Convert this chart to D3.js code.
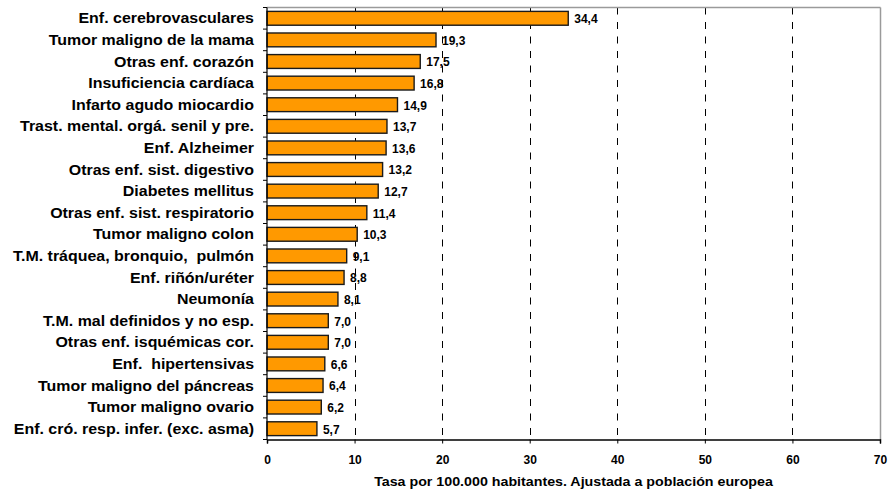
<!DOCTYPE html>
<html>
<head>
<meta charset="utf-8">
<script src="https://cdn.jsdelivr.net/npm/d3@7"></script>
<style>
  body { margin: 0; background: #fff; }
  text { font-family: "Liberation Sans", Arial, sans-serif; font-weight: bold; fill: #000; }
</style>
</head>
<body>
<svg id="chart" width="889" height="493"></svg>
<script>
// causes of death, top to bottom
var causes = [
    "Enf. cerebrovasculares",
    "Tumor maligno de la mama",
    "Otras enf. corazón",
    "Insuficiencia cardíaca",
    "Infarto agudo miocardio",
    "Trast. mental. orgá. senil y pre.",
    "Enf. Alzheimer",
    "Otras enf. sist. digestivo",
    "Diabetes mellitus",
    "Otras enf. sist. respiratorio",
    "Tumor maligno colon",
    "T.M. tráquea, bronquio,  pulmón",
    "Enf. riñón/uréter",
    "Neumonía",
    "T.M. mal definidos y no esp.",
    "Otras enf. isquémicas cor.",
    "Enf.  hipertensivas",
    "Tumor maligno del páncreas",
    "Tumor maligno ovario",
    "Enf. cró. resp. infer. (exc. asma)"
];

// rates per 100.000
var rates = [34.4, 19.3, 17.5, 16.8, 14.9, 13.7, 13.6, 13.2, 12.7, 11.4,
             10.3, 9.1, 8.8, 8.1, 7.0, 7.0, 6.6, 6.4, 6.2, 5.7];

var xTicks = [0, 10, 20, 30, 40, 50, 60, 70];
var xTitle = "Tasa por 100.000 habitantes. Ajustada a población europea";

// plot box (window.top is taken, so use other names)
var plotLeft = 267, plotRight = 880, plotTop = 7.5, plotBottom = 439.5;
// the original text is a bit wider than Liberation Sans
var stretch = 1.14;

var svg = d3.select("#chart");

var x = d3.scaleLinear().domain([0, 70]).range([plotLeft, plotRight]);
var y = d3.scaleBand().domain(causes).range([plotTop, plotBottom]).paddingInner(0.36).paddingOuter(0.18);

var fmt = function(v) { return d3.format(".1f")(v).replace(".", ","); };

// dashed grid lines
svg.append("g")
    .selectAll("line")
    .data(xTicks.filter(function(d) { return d > 0 && d < 70; }))
    .join("line")
    .attr("x1", function(d) { return Math.round(x(d)) + 0.5; })
    .attr("x2", function(d) { return Math.round(x(d)) + 0.5; })
    .attr("y1", plotTop)
    .attr("y2", plotBottom)
    .attr("stroke", "#000")
    .attr("stroke-width", 1)
    .attr("stroke-dasharray", "7,7.5");

// gray frame on top and right
svg.append("line")
    .attr("x1", plotLeft).attr("x2", plotRight + 0.5)
    .attr("y1", plotTop).attr("y2", plotTop)
    .attr("stroke", "#9a9a9a").attr("stroke-width", 1.5);
svg.append("line")
    .attr("x1", plotRight + 0.5).attr("x2", plotRight + 0.5)
    .attr("y1", plotTop).attr("y2", plotBottom)
    .attr("stroke", "#9a9a9a").attr("stroke-width", 1.5);

// bars
svg.append("g")
    .selectAll("rect")
    .data(rates)
    .join("rect")
    .attr("x", x(0))
    .attr("y", function(d, i) { return y(causes[i]); })
    .attr("width", function(d) { return x(d) - x(0); })
    .attr("height", y.bandwidth())
    .attr("fill", "#FF9900")
    .attr("stroke", "#1a1a1a")
    .attr("stroke-width", 1.4);

// value labels
svg.append("g")
    .selectAll("text")
    .data(rates)
    .join("text")
    .attr("x", function(d) { return x(d) + 6; })
    .attr("y", function(d, i) { return y(causes[i]) + y.bandwidth() / 2; })
    .attr("dy", "0.4em")
    .attr("font-size", "12px")
    .text(fmt);

// left axis with ticks at band edges
var yAxis = svg.append("g").attr("transform", "translate(" + plotLeft + ",0)");
yAxis.append("line")
    .attr("x1", 0).attr("x2", 0).attr("y1", plotTop).attr("y2", plotBottom)
    .attr("stroke", "#000").attr("stroke-width", 1.2);
var edges = causes.map(function(c) { return y(c) - y.step() * y.paddingInner() / 2; });
edges.push(plotBottom);
yAxis.selectAll(".edge")
    .data(edges)
    .join("line")
    .attr("class", "edge")
    .attr("x1", -4).attr("x2", 0)
    .attr("y1", function(d) { return d; }).attr("y2", function(d) { return d; })
    .attr("stroke", "#000");
yAxis.selectAll(".cat")
    .data(causes)
    .join("text")
    .attr("class", "cat")
    .attr("transform", function(d) {
        return "translate(-13," + (y(d) + y.bandwidth() / 2) + ") scale(" + stretch + ",1)";
    })
    .attr("dy", "0.36em")
    .attr("text-anchor", "end")
    .attr("font-size", "14px")
    .style("white-space", "pre")
    .text(function(d) { return d; });

// bottom axis
var xAxis = svg.append("g")
    .attr("transform", "translate(0," + plotBottom + ")")
    .call(d3.axisBottom(x).tickValues(xTicks).tickSize(4).tickPadding(12));
xAxis.select(".domain").attr("stroke", "#000").attr("stroke-width", 1.5);
xAxis.selectAll(".tick line").attr("stroke", "#000");
xAxis.selectAll(".tick text")
    .attr("font-size", "12px")
    .attr("font-family", "Liberation Sans, Arial, sans-serif")
    .attr("font-weight", "bold")
    .attr("fill", "#000");

svg.append("text")
    .attr("transform", "translate(" + ((plotLeft + plotRight) / 2) + ",486) scale(" + stretch + ",1)")
    .attr("text-anchor", "middle")
    .attr("font-size", "12.5px")
    .text(xTitle);
</script>
</body>
</html>
